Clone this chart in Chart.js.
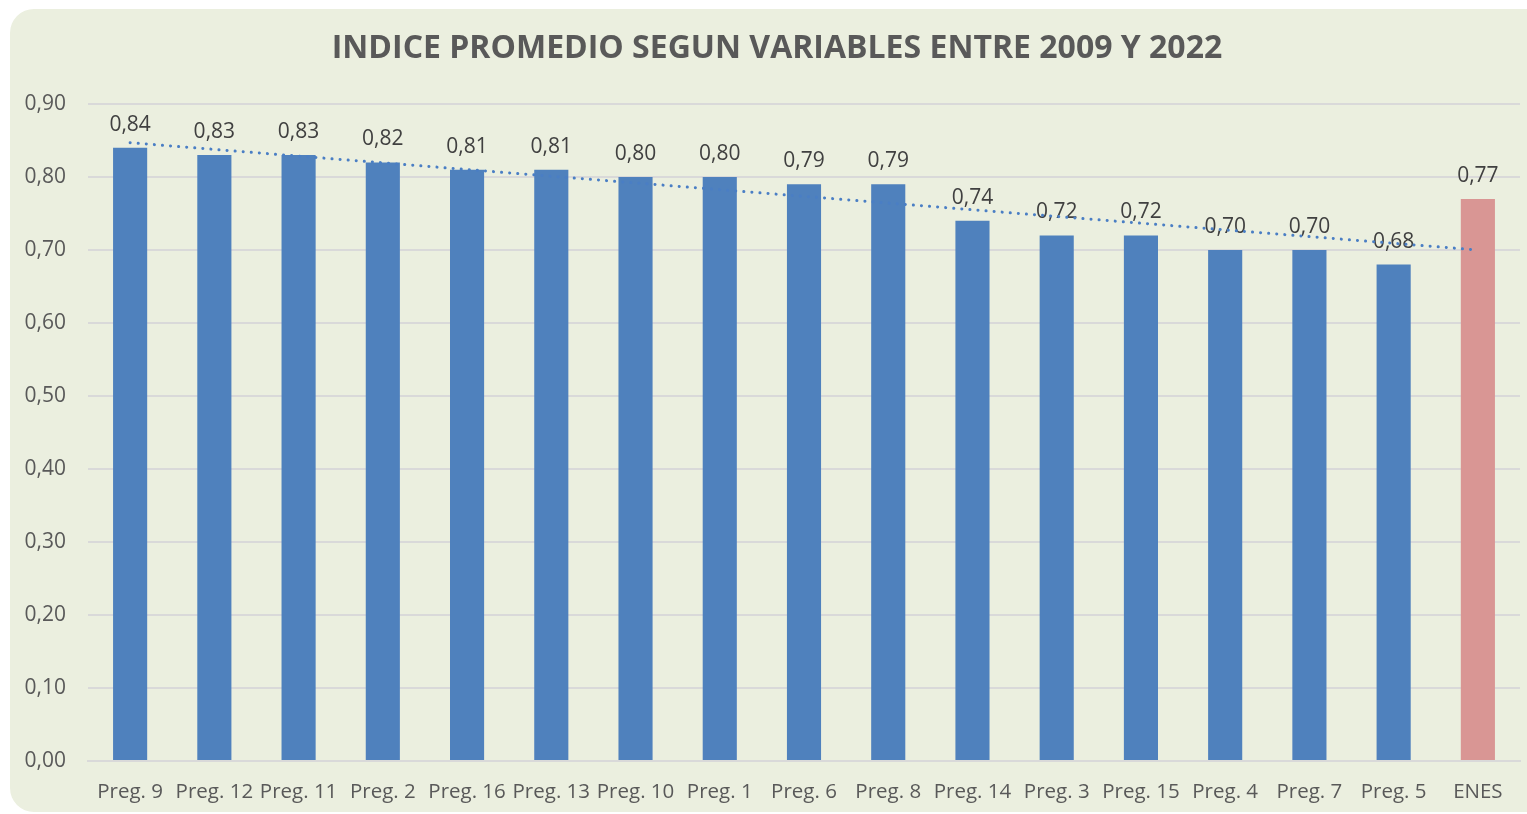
<!DOCTYPE html>
<html>
<head>
<meta charset="utf-8">
<script src="https://cdn.jsdelivr.net/npm/chart.js@4/dist/chart.umd.min.js"></script>
<style>
html,body{margin:0;padding:0;background:#ffffff;}
canvas{display:block;}
</style>
</head>
<body>
<canvas id="c" width="1527" height="814"></canvas>
<script>
const chartTitle = 'INDICE PROMEDIO SEGUN VARIABLES ENTRE 2009 Y 2022';
const categories = ['Preg. 9','Preg. 12','Preg. 11','Preg. 2','Preg. 16','Preg. 13','Preg. 10','Preg. 1','Preg. 6','Preg. 8','Preg. 14','Preg. 3','Preg. 15','Preg. 4','Preg. 7','Preg. 5','ENES'];
const values = [0.84,0.83,0.83,0.82,0.81,0.81,0.80,0.80,0.79,0.79,0.74,0.72,0.72,0.70,0.70,0.68,0.77];
// trend line: start and end points
const trendValues = [0.847,null,null,null,null,null,null,null,null,null,null,null,null,null,null,null,0.700];
const yTicks = [0,0.1,0.2,0.3,0.4,0.5,0.6,0.7,0.8,0.9];

const BLUE = '#4F81BD';
const PINK = '#D99694';
const fmt = v => v.toFixed(2).replace('.', ',');

const bgPlugin = {
  id: 'cardBg',
  beforeDraw(chart) {
    const ctx = chart.ctx;
    ctx.save();
    ctx.fillStyle = '#EBEFDF';
    const x = 10, y = 9, w = 1540, h = 803, r = 24;
    ctx.beginPath();
    ctx.moveTo(x + r, y);
    ctx.lineTo(x + w, y);
    ctx.lineTo(x + w, y + h);
    ctx.lineTo(x + r, y + h);
    ctx.arcTo(x, y + h, x, y + h - r, r);
    ctx.lineTo(x, y + r);
    ctx.arcTo(x, y, x + r, y, r);
    ctx.closePath();
    ctx.fill();
    // title
    ctx.fillStyle = '#595959';
    ctx.font = 'bold 32px "Open Sans"';
    ctx.textAlign = 'center';
    ctx.textBaseline = 'middle';
    ctx.fillText(chartTitle, 777, 49);
    ctx.restore();
  }
};

const labelPlugin = {
  id: 'barLabels',
  afterDatasetDraw(chart, args) {
    if (args.index !== 0) return;
    const ctx = chart.ctx;
    const meta = args.meta;
    ctx.save();
    ctx.fillStyle = '#404040';
    ctx.font = '21px "Open Sans"';
    ctx.textAlign = 'center';
    ctx.textBaseline = 'alphabetic';
    meta.data.forEach((bar, i) => {
      ctx.fillText(fmt(values[i]), bar.x, bar.y - 17);
    });
    ctx.restore();
  }
};

new Chart(document.getElementById('c'), {
  data: {
    labels: categories,
    datasets: [
      {
        type: 'bar',
        data: values,
        backgroundColor: values.map((v, i) => i === values.length - 1 ? PINK : BLUE),
        barPercentage: 0.405,
        categoryPercentage: 1,
        order: 1
      },
      {
        type: 'line',
        data: trendValues,
        spanGaps: true,
        borderColor: '#4A7EC4',
        borderWidth: 3,
        borderDash: [0.1, 8],
        borderCapStyle: 'round',
        pointRadius: 0,
        fill: false,
        order: 0
      }
    ]
  },
  options: {
    responsive: false,
    animation: false,
    layout: { padding: { top: 104, left: 10, right: 7, bottom: 0 } },
    plugins: {
      legend: { display: false },
      title: { display: false },
      tooltip: { enabled: false }
    },
    scales: {
      x: {
        grid: { display: false, drawTicks: false },
        border: { display: true, color: '#D9D9D9', width: 2 },
        ticks: { color: '#595959', font: { family: 'Open Sans', size: 20.5 }, padding: 19, maxRotation: 0, autoSkip: false },
        afterFit(s) { s.height = 53; }
      },
      y: {
        min: 0, max: 0.9,
        afterBuildTicks(s) { s.ticks = yTicks.map(v => ({ value: v })); },
        grid: { color: '#D9D9D9', lineWidth: 2, drawTicks: false },
        border: { display: false },
        ticks: { color: '#595959', font: { family: 'Open Sans', size: 21 }, padding: 22, callback: v => fmt(v) },
        afterFit(s) { s.width = 78; }
      }
    }
  },
  plugins: [bgPlugin, labelPlugin]
});
</script>
</body>
</html>
